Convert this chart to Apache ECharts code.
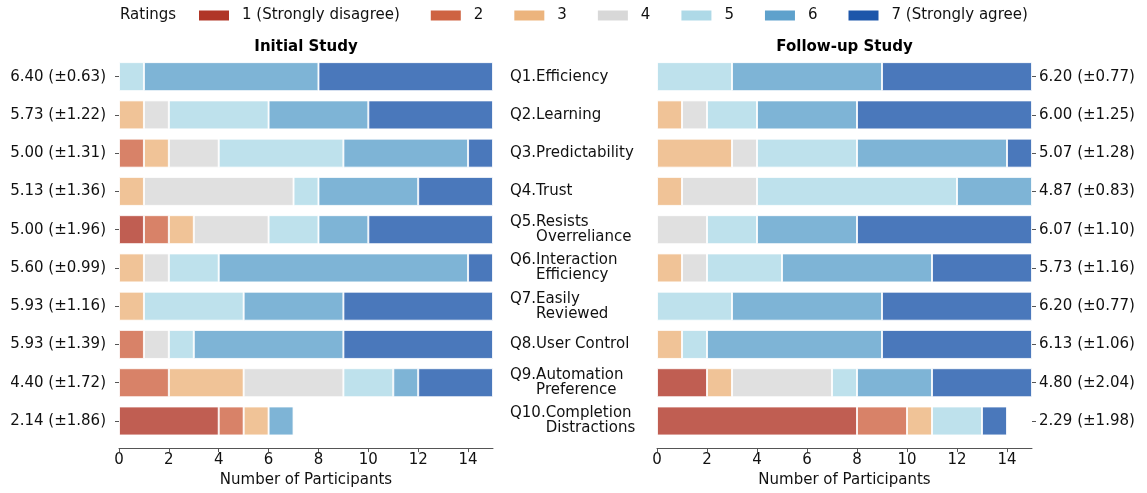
<!DOCTYPE html>
<html>
<head>
<meta charset="utf-8">
<script src="https://cdn.jsdelivr.net/npm/echarts@6/dist/echarts.min.js"></script>
<style>html,body{margin:0;padding:0;background:#fff}#c{width:1147px;height:493px}</style>
</head>
<body>
<div id="c"></div>
<script>
// ---- Data ----
const questions = ['Q1.Efficiency','Q2.Learning','Q3.Predictability','Q4.Trust','Q5.Resists\nOverreliance','Q6.Interaction\nEfficiency','Q7.Easily\nReviewed','Q8.User Control','Q9.Automation\nPreference','Q10.Completion\nDistractions'];
const initialStats = ['6.40 (±0.63)','5.73 (±1.22)','5.00 (±1.31)','5.13 (±1.36)','5.00 (±1.96)','5.60 (±0.99)','5.93 (±1.16)','5.93 (±1.39)','4.40 (±1.72)','2.14 (±1.86)'];
const followStats = ['6.20 (±0.77)','6.00 (±1.25)','5.07 (±1.28)','4.87 (±0.83)','6.07 (±1.10)','5.73 (±1.16)','6.20 (±0.77)','6.13 (±1.06)','4.80 (±2.04)','2.29 (±1.98)'];
const ratingNames = ['1 (Strongly disagree)','2','3','4','5','6','7 (Strongly agree)'];
const ratingColors = ['#b03627','#ce6342','#ecb47d','#d8d8d8','#aed9e7','#5ea1cc','#1d56aa'];
const xTicks = [0,2,4,6,8,10,12,14];

// Initial study counts per rating (Q1..Q10)
const init1 = [0,0,0,0,1,0,0,0,0,4];
const init2 = [0,0,1,0,1,0,0,1,2,1];
const init3 = [0,1,1,1,1,1,1,0,3,1];
const init4 = [0,1,2,6,3,1,0,1,4,0];
const init5 = [1,4,5,1,2,2,4,1,2,0];
const init6 = [7,4,5,4,2,10,4,6,1,1];
const init7 = [7,5,1,3,5,1,6,6,3,0];
// Follow-up study counts per rating (Q1..Q10)
const fol1 = [0,0,0,0,0,0,0,0,2,8];
const fol2 = [0,0,0,0,0,0,0,0,0,2];
const fol3 = [0,1,3,1,0,1,0,1,1,1];
const fol4 = [0,1,1,3,2,1,0,0,4,0];
const fol5 = [3,2,4,8,2,3,3,1,1,2];
const fol6 = [6,4,6,3,4,6,6,7,3,0];
const fol7 = [6,7,1,0,7,4,6,6,4,1];

const initSets = [init1,init2,init3,init4,init5,init6,init7];
const folSets = [fol1,fol2,fol3,fol4,fol5,fol6,fol7];

const FONT = '"DejaVu Sans", sans-serif';
const AXC = '#555';

function mkSeries(sets, gi, stack, yIdx) {
  return sets.map((arr, i) => ({
    type: 'bar',
    name: ratingNames[i],
    stack: stack,
    xAxisIndex: gi,
    yAxisIndex: yIdx,
    barWidth: 29,
    data: arr.map(v => v === 0 ? null : v),
    itemStyle: { color: ratingColors[i], opacity: 0.8, borderColor: '#fff', borderWidth: 1 },
    emphasis: { disabled: true },
    animation: false
  }));
}

function xAxisCfg(gi) {
  return {
    type: 'value', gridIndex: gi, min: 0, max: 15, interval: 2, offset: 8,
    splitLine: { show: false },
    axisLine: { show: true, lineStyle: { color: AXC, width: 1 } },
    axisTick: { show: true, length: 4, lineStyle: { color: AXC }, customValues: xTicks },
    axisLabel: { margin: 5, fontSize: 15, color: '#111', fontFamily: FONT, customValues: xTicks },
    name: 'Number of Participants', nameLocation: 'middle', nameGap: 22,
    nameTextStyle: { fontSize: 15, color: '#111', fontFamily: FONT }
  };
}

const chart = echarts.init(document.getElementById('c'), null, { renderer: 'canvas' });
chart.setOption({
  animation: false,
  textStyle: { fontFamily: FONT },
  legend: {
    left: 199, top: 8, padding: 0,
    itemWidth: 30, itemHeight: 10, itemGap: 31,
    icon: 'rect',
    data: ratingNames,
    itemStyle: { opacity: 1, borderWidth: 0 },
    textStyle: { fontSize: 15, color: '#111', fontFamily: FONT, padding: [0, 0, 0, 8] },
    selectedMode: false
  },
  graphic: [
    { type: 'text', x: 120, y: 15, style: { text: 'Ratings', fontSize: 15, fontFamily: FONT, fill: '#111', align: 'left', verticalAlign: 'middle' } },
    { type: 'text', x: 306, y: 47, style: { text: 'Initial Study', fontSize: 15, fontWeight: 'bold', fontFamily: FONT, fill: '#000', align: 'center', verticalAlign: 'middle' } },
    { type: 'text', x: 844.5, y: 47, style: { text: 'Follow-up Study', fontSize: 15, fontWeight: 'bold', fontFamily: FONT, fill: '#000', align: 'center', verticalAlign: 'middle' } }
  ],
  grid: [
    { left: 119, width: 374, top: 57.5, height: 384.4 },
    { left: 657, width: 375, top: 57.5, height: 384.4 }
  ],
  xAxis: [xAxisCfg(0), xAxisCfg(1)],
  yAxis: [
    {
      type: 'category', gridIndex: 0, data: initialStats, inverse: true, position: 'left',
      axisLine: { show: false },
      axisTick: { show: true, length: 4, alignWithLabel: true, lineStyle: { color: AXC } },
      axisLabel: { margin: 13, fontSize: 15, color: '#111', fontFamily: FONT }
    },
    {
      type: 'category', gridIndex: 1, data: questions, inverse: true, position: 'left',
      axisLine: { show: false }, axisTick: { show: false },
      axisLabel: {
        margin: 147, align: 'left', fontSize: 15, color: '#111', fontFamily: FONT,
        formatter: function (v) {
          const parts = v.split('\n');
          if (parts.length === 1) return '{t|' + parts[0] + '}';
          const pre = parts[0].match(/^Q\d+\./)[0];
          return '{t|' + parts[0] + '}\n{h|' + pre + '}{t|' + parts[1] + '}';
        },
        rich: {
          t: { fontSize: 15, color: '#111', fontFamily: FONT, lineHeight: 15 },
          h: { fontSize: 15, color: 'transparent', fontFamily: FONT, lineHeight: 15 }
        }
      }
    },
    {
      type: 'category', gridIndex: 1, data: followStats, inverse: true, position: 'right',
      axisLine: { show: false },
      axisTick: { show: true, length: 4, alignWithLabel: true, lineStyle: { color: AXC } },
      axisLabel: { margin: 7, fontSize: 15, color: '#111', fontFamily: FONT }
    }
  ],
  series: [].concat(mkSeries(initSets, 0, 'init', 0), mkSeries(folSets, 1, 'fol', 1))
});
</script>
</body>
</html>
